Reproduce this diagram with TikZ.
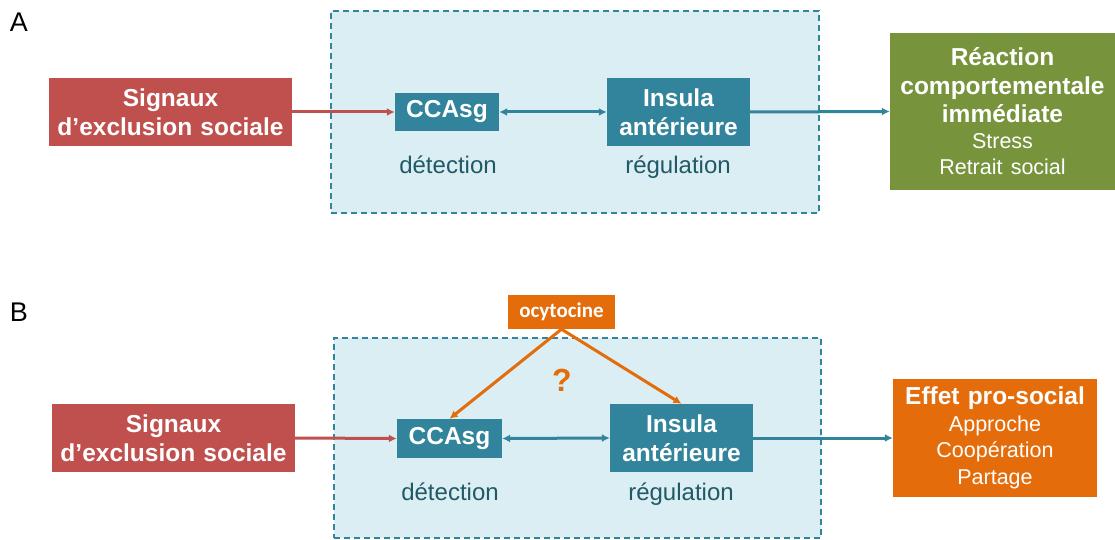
\documentclass[tikz,border=0pt]{standalone}
\usepackage{fontspec}
\setmainfont{Liberation Sans}
\newfontfamily\carlito{Carlito}
\usetikzlibrary{arrows.meta}
\definecolor{cred}{HTML}{C0504D}
\definecolor{cteal}{HTML}{31849B}
\definecolor{clight}{HTML}{DAEEF3}
\definecolor{cdark}{HTML}{215967}
\definecolor{cgreen}{HTML}{77933C}
\definecolor{corange}{HTML}{E46C0A}
\begin{document}
\begin{tikzpicture}[x=1pt,y=-1pt,
  box/.style={inner sep=0pt, align=center, text=white, font=\bfseries\fontsize{24.5}{28.5}\selectfont},
  redbox/.style={box, fill=cred, text width=243pt, minimum height=68pt},
  tealbox/.style={box, fill=cteal},
  groupbox/.style={draw=cteal, fill=clight, line width=1.4pt, dash pattern=on 6pt off 4pt, inner sep=0pt},
  lbl/.style={inner sep=0pt, anchor=base, text=cdark, font=\fontsize{24}{28}\selectfont},
  panel/.style={inner sep=0pt, font=\fontsize{27}{30}\selectfont},
  arr/.style={line width=3pt, -{Latex[length=8pt,width=8pt]}},
  darr/.style={line width=3pt, {Latex[length=8pt,width=8pt]}-{Latex[length=8pt,width=8pt]}}
]
\useasboundingbox (0,0) rectangle (1115,540);

% ---------- Panel A ----------
\node[panel] (labA) at (19,22) {A};
\node[groupbox, minimum width=488pt, minimum height=202pt] (grpA) at (575,112) {};
\node[redbox] (sigA) at (170.5,112) {Signaux\\d’exclusion sociale};
\node[tealbox, minimum width=104pt, minimum height=38pt] (ccaA) at (447,112) {CCAsg};
\node[tealbox, text width=143pt, minimum height=68pt] (insA) at (678.5,112) {Insula\\antérieure};
\node[box, fill=cgreen, text width=225pt, minimum height=157pt] (reacA) at (1002.5,111.5)
  {Réaction\\comportementale\\immédiate\par
   {\mdseries\fontsize{21.5}{26}\selectfont Stress\\Retrait social\par}};
\node[lbl] (detA) at (448,174) {détection};
\node[lbl] (regA) at (678,174) {régulation};
\draw[arr, cred] (sigA.east) -- (ccaA.west);
\draw[darr, cteal] (ccaA.east) -- (insA.west);
\draw[arr, cteal] (insA.east) -- (reacA.west);

% ---------- Panel B ----------
\node[panel] (labB) at (19,312) {B};
\node[groupbox, minimum width=487pt, minimum height=200pt] (grpB) at (577.5,438) {};
\node[redbox] (sigB) at (173.5,438) {Signaux\\d’exclusion sociale};
\node[tealbox, minimum width=105pt, minimum height=39pt] (ccaB) at (449.5,438.5) {CCAsg};
\node[tealbox, text width=143pt, minimum height=68pt] (insB) at (681.5,438) {Insula\\antérieure};
\node[box, fill=corange, text width=204pt, minimum height=118pt] (effB) at (995,438)
  {Effet pro-social\par
   {\mdseries\fontsize{21.5}{26.5}\selectfont Approche\\Coopération\\Partage\par}};
\node[inner sep=0pt, fill=corange, text=white, minimum width=107pt, minimum height=34pt,
  font=\carlito\bfseries\fontsize{21}{24}\selectfont] (oxy) at (561.5,312) {ocytocine};
\node[inner sep=0pt, text=corange, font=\bfseries\fontsize{32}{34}\selectfont] (q) at (562,380) {?};
\node[lbl] (detB) at (450,500.5) {détection};
\node[lbl] (regB) at (681,500.5) {régulation};
\draw[arr, cred] (sigB.east) -- (ccaB.west);
\draw[darr, cteal] (ccaB.east) -- (insB.west);
\draw[arr, cteal] (insB.east) -- (effB.west);
\draw[arr, corange] (oxy.south) -- (ccaB.north);
\draw[arr, corange] (oxy.south) -- (insB.north);
\end{tikzpicture}
\end{document}
